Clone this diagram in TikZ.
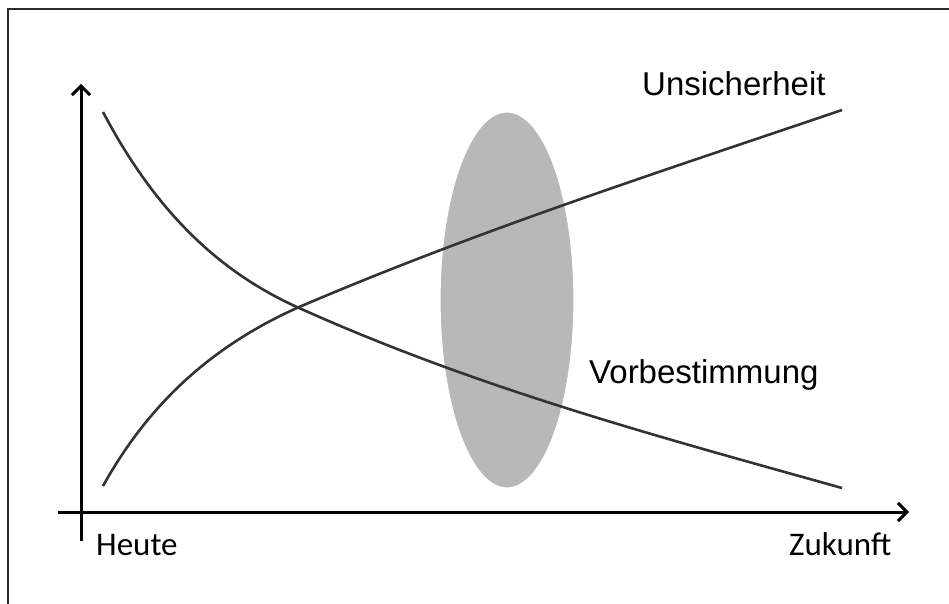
\documentclass[tikz,border=0pt]{standalone}
\usepackage{fontspec}
\setmainfont{Liberation Sans}
\newfontfamily\calib{Carlito}
\usetikzlibrary{arrows.meta}
\definecolor{curvecol}{HTML}{333333}
\definecolor{ellfill}{HTML}{B8B8B8}
\definecolor{framecol}{HTML}{2A2A2A}
\tikzset{
  axisline/.style={line width=3pt, black, -{Straight Barb[length=9pt,width=18pt,line width=3pt]}},
  curveline/.style={line width=2.6pt, curvecol},
  lbl/.style={inner sep=0pt, anchor=base west, font=\fontsize{33}{40}\selectfont},
  axlbl/.style={inner sep=0pt, anchor=base west, font=\calib\fontsize{33}{40}\selectfont},
}
\begin{document}
\begin{tikzpicture}[x=1pt,y=-1pt]
\useasboundingbox (0,0) rectangle (949,604);
\fill[white] (0,0) rectangle (949,604);
% frame (top and left edges only)
\draw[framecol, line width=2pt] (8,604) -- (8,9) -- (949,9);
% ellipse
\fill[ellfill, draw=white, line width=1.2pt] (507,300) ellipse [x radius=67, y radius=188];
% curves
\coordinate (vA) at (103,112);
\coordinate (cross) at (298,307.5);
\coordinate (vB) at (842,488);
\coordinate (uA) at (103,486);
\coordinate (uB) at (842,110);
\draw[curveline] (vA) .. controls (155,210.6) and (218,271.5) .. (cross)
  .. controls (479,389) and (661,437.3) .. (vB);
\draw[curveline] (uA) .. controls (153,396) and (220,342.5) .. (cross)
  .. controls (479,230) and (661,171.5) .. (uB);
% axes
\coordinate (ybot) at (81,541);
\coordinate (ytop) at (81,84);
\coordinate (xleft) at (58,512);
\coordinate (xright) at (909,512);
\draw[axisline] (ybot) -- (ytop);
\draw[axisline] (xleft) -- (xright);
% labels
\node[lbl] (uns) at (642,96) {Unsicherheit};
\node[lbl] (vor) at (589,383) {Vorbestimmung};
\node[axlbl] (heute) at (96,555) {Heute};
\node[axlbl] (zuk) at (789,555) {Zukunft};
\end{tikzpicture}
\end{document}
